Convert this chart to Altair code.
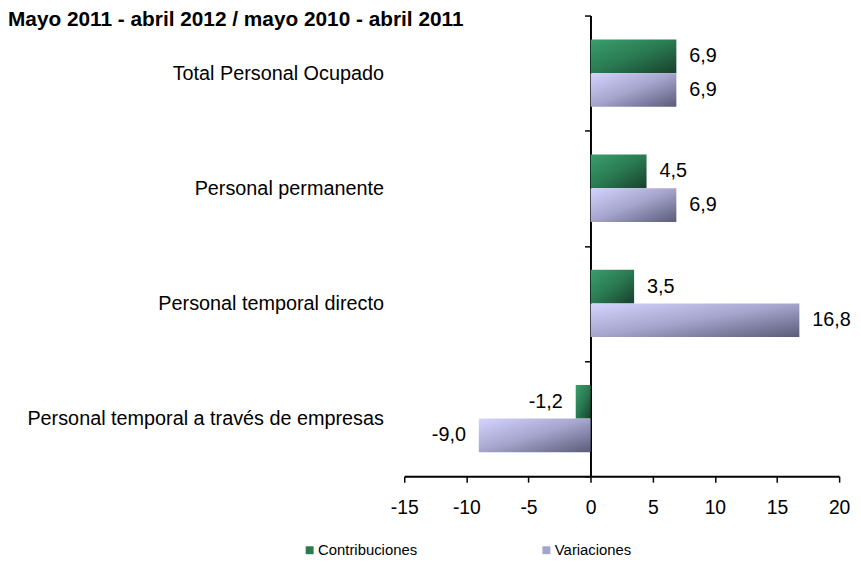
import altair as alt
import pandas as pd

categories = [
    "Total Personal  Ocupado",
    "Personal permanente",
    "Personal temporal directo",
    "Personal temporal a través de empresas",
]
series = ["Contribuciones", "Variaciones"]
contribuciones = [6.9, 4.5, 3.5, -1.2]
variaciones = [6.9, 6.9, 16.8, -9.0]
x_ticks = [-15, -10, -5, 0, 5, 10, 15, 20]
title_text = "Mayo 2011 - abril 2012 / mayo 2010 - abril 2011"

rows = []
for c, v1, v2 in zip(categories, contribuciones, variaciones):
    rows.append({"cat": c, "serie": series[0], "valor": v1})
    rows.append({"cat": c, "serie": series[1], "valor": v2})
df = pd.DataFrame(rows)
df["etiqueta"] = df["valor"].map(lambda v: f"{v:.1f}".replace(".", ","))

FONT = "Liberation Sans"
W, H = 439, 465
PAD_L, PAD_T = 400, 5

grad_green = alt.Gradient(
    gradient="linear", x1=0, y1=0, x2=1, y2=1,
    stops=[alt.GradientStop(color="#3a9e6c", offset=0),
           alt.GradientStop(color="#2a7a52", offset=0.5),
           alt.GradientStop(color="#17402b", offset=1)],
)
grad_purple = alt.Gradient(
    gradient="linear", x1=0, y1=0, x2=1, y2=1,
    stops=[alt.GradientStop(color="#d4d4ff", offset=0),
           alt.GradientStop(color="#a4a4cc", offset=0.5),
           alt.GradientStop(color="#5a5a78", offset=1)],
)

x_enc = alt.X(
    "valor:Q",
    scale=alt.Scale(domain=[-15, 20], nice=False, zero=False),
    axis=alt.Axis(
        values=x_ticks, title=None, grid=False,
        domainColor="black", domainWidth=2,
        tickColor="black", tickSize=6, tickWidth=1.5,
        labelFontSize=19.5, labelColor="black", labelPadding=17,
        labelFont=FONT, labelExpr="datum.value + ''", labelFlush=False,
    ),
)
y_enc = alt.Y(
    "cat:N", sort=categories,
    scale=alt.Scale(paddingInner=0, paddingOuter=0),
    axis=alt.Axis(
        title=None, offset=-188,
        domainColor="black", domainWidth=2,
        ticks=True, tickBand="extent", tickSize=6,
        tickColor="black", tickWidth=1.5,
        labelPadding=203, labelFontSize=20, labelLimit=500,
        labelColor="black", labelFont=FONT,
    ),
)
yoff = alt.YOffset("serie:N", sort=series,
                   scale=alt.Scale(domain=series, paddingInner=0, paddingOuter=0.71))

base = alt.Chart(df).encode(x=x_enc, y=y_enc, yOffset=yoff)

bars_g = base.transform_filter(alt.datum.serie == series[0]).mark_bar(fill=grad_green)
bars_p = base.transform_filter(alt.datum.serie == series[1]).mark_bar(fill=grad_purple)

txt_pos = base.transform_filter(alt.datum.valor >= 0).mark_text(
    align="left", baseline="middle", dx=13, fontSize=20, font=FONT, color="black"
).encode(text="etiqueta:N")
txt_neg = base.transform_filter(alt.datum.valor < 0).mark_text(
    align="right", baseline="middle", dx=-13, fontSize=20, font=FONT, color="black"
).encode(text="etiqueta:N")

legend_layer = base.mark_square(opacity=0).encode(
    color=alt.Color(
        "serie:N",
        scale=alt.Scale(domain=series, range=["#2a7a52", "#a4a4cc"]),
        legend=alt.Legend(
            orient="none", legendX=305 - 8 - PAD_L, legendY=532, direction="horizontal",
            title=None, symbolType="square", symbolSize=64, symbolOpacity=1,
            symbolStrokeWidth=0, labelFontSize=15, labelFont=FONT,
            labelColor="black", labelOffset=1, columnPadding=122,
        ),
    )
)

chart = alt.layer(bars_g, bars_p, txt_pos, txt_neg, legend_layer).properties(
    width=W, height=H,
    title=alt.TitleParams(
        title_text, anchor="start", frame="group", dx=-PAD_L, dy=25, offset=0,
        fontSize=21, fontWeight="bold", font=FONT, color="black",
    ),
    autosize=alt.AutoSizeParams(type="none"),
    padding={"left": PAD_L, "top": PAD_T, "right": 14, "bottom": 84},
).configure_view(stroke=None)

chart.save("out.html", embed_options={"renderer": "svg", "actions": False})
